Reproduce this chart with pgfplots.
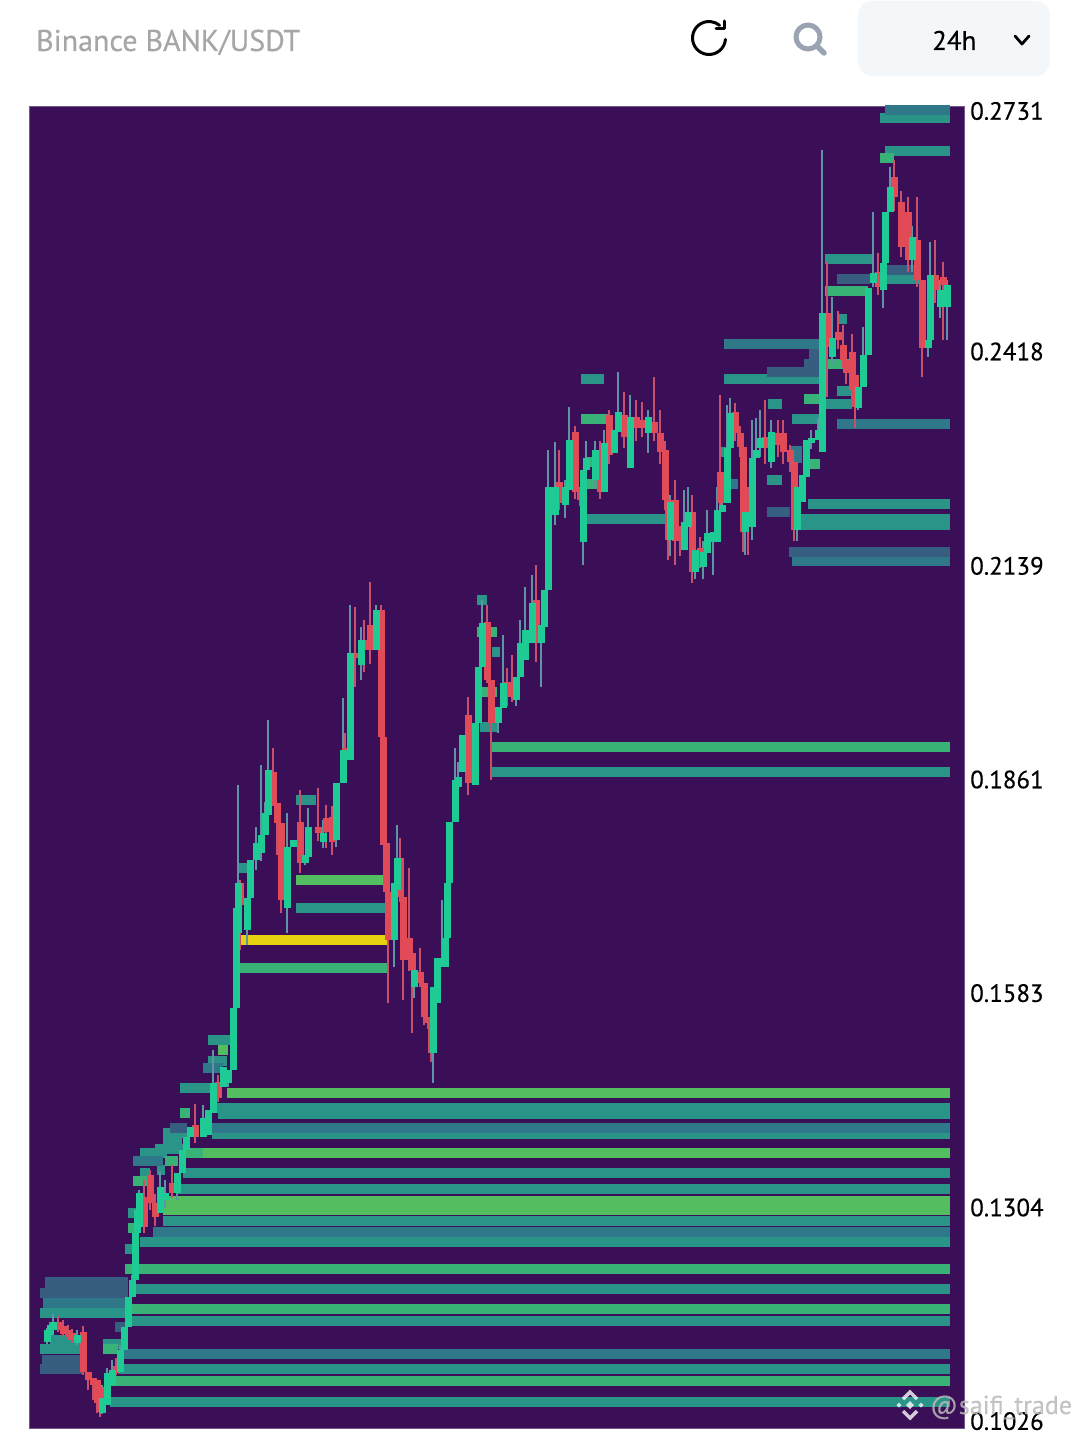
\documentclass[border=0pt]{standalone}
\usepackage{fontspec}
\setmainfont{PT Sans}[FakeBold=0.35]
\usepackage{pgfplots}
\usepackage{pgfplotstable}
\pgfplotsset{compat=1.18}

\definecolor{bgpurple}{HTML}{3B0F57}
\definecolor{hbright}{HTML}{52BE60}
\definecolor{hgreen}{HTML}{39B278}
\definecolor{hteal}{HTML}{2A9488}
\definecolor{hblue}{HTML}{2E7889}
\definecolor{hslate}{HTML}{375E80}
\definecolor{hyellow}{HTML}{E6D20E}
\definecolor{upbody}{HTML}{1ECB94}
\definecolor{downbody}{HTML}{E14B57}
\definecolor{upwick}{HTML}{5F93A6}
\definecolor{downwick}{HTML}{C9506A}
\definecolor{chipbg}{HTML}{F4F7FA}
\definecolor{icongray}{HTML}{9AA3B2}

% order book bands: start, end, price
\pgfplotstableread{
x0 x1 p
227 950 0.1452
203 950 0.1374
296 383 0.1729
218 228 0.1508
163 950 0.1311
163 950 0.1299
}\brightbars
\pgfplotstableread{
x0 x1 p
491 950 0.1902
237 388 0.1614
825 868 0.2495
880 894 0.2669
804 820 0.2355
808 820 0.2270
825 853 0.2400
581 610 0.2329
585 598 0.2273
585 598 0.2244
477 497 0.2052
477 497 0.1974
180 190 0.1426
165 178 0.1363
133 147 0.1337
128 140 0.1276
125 950 0.1223
128 950 0.1171
110 950 0.1077
103 118 0.1118
185 203 0.1374
}\greenbars
\pgfplotstableread{
x0 x1 p
880 950 0.2721
885 950 0.2678
825 873 0.2537
885 920 0.2511
837 847 0.2459
724 820 0.2381
837 852 0.2365
825 852 0.2348
768 782 0.2348
792 820 0.2329
767 782 0.2250
720 730 0.2286
808 950 0.2218
797 950 0.2199
797 950 0.2191
581 604 0.2381
585 665 0.2199
477 487 0.2093
480 497 0.1928
492 500 0.2026
491 950 0.1869
296 316 0.1833
296 386 0.1692
237 248 0.1745
208 232 0.1521
208 227 0.1493
180 217 0.1458
217 950 0.1432
218 950 0.1424
212 950 0.1398
163 187 0.1400
163 182 0.1389
155 183 0.1379
140 167 0.1374
157 165 0.1351
140 150 0.1348
183 950 0.1348
177 950 0.1327
163 950 0.1285
140 950 0.1258
128 140 0.1296
125 137 0.1249
135 950 0.1197
130 950 0.1155
40 127 0.1165
40 83 0.1118
50 83 0.1130
103 123 0.1125
118 950 0.1092
110 950 0.1050
}\tealbars
\pgfplotstableread{
x0 x1 p
885 950 0.2731
837 950 0.2322
724 820 0.2426
790 802 0.2287
790 802 0.2278
720 738 0.2244
792 950 0.2144
212 950 0.1406
133 163 0.1363
153 950 0.1271
43 128 0.1178
122 950 0.1112
203 223 0.1484
}\bluebars
\pgfplotstableread{
x0 x1 p
837 870 0.2511
885 917 0.2523
809 820 0.2413
804 820 0.2400
767 820 0.2390
767 790 0.2208
789 950 0.2156
170 187 0.1406
45 128 0.1206
45 128 0.1198
40 128 0.1191
42 83 0.1104
40 83 0.1092
115 125 0.1147
}\slatebars
\pgfplotstableread{
x0 x1 p
237 388 0.1651
}\yellowbars

% candles: time, low, high, body low, body high
\pgfplotstableread{
x lo hi bl bh
47 0.1125 0.1146 0.1128 0.1143
50 0.1134 0.1154 0.1137 0.1150
53 0.1141 0.1164 0.1143 0.1154
77 0.1124 0.1143 0.1126 0.1137
102 0.1034 0.1072 0.1035 0.1055
107 0.1046 0.1094 0.1046 0.1087
112 0.1072 0.1104 0.1072 0.1091
120 0.1089 0.1124 0.1089 0.1117
124 0.1117 0.1147 0.1117 0.1147
128 0.1147 0.1186 0.1147 0.1186
132 0.1186 0.1215 0.1186 0.1208
135 0.1208 0.1269 0.1208 0.1269
137 0.1269 0.1299 0.1269 0.1299
139 0.1277 0.1325 0.1277 0.1321
160 0.1296 0.1349 0.1296 0.1329
165 0.1302 0.1339 0.1312 0.1321
177 0.1312 0.1348 0.1321 0.1348
182 0.1348 0.1378 0.1348 0.1378
186 0.1378 0.1394 0.1378 0.1394
190 0.1394 0.1407 0.1394 0.1407
203 0.1394 0.1436 0.1394 0.1419
208 0.1397 0.1430 0.1397 0.1430
213 0.1426 0.1508 0.1426 0.1465
223 0.1460 0.1486 0.1460 0.1486
228 0.1460 0.1482 0.1465 0.1482
233 0.1482 0.1562 0.1482 0.1562
236 0.1562 0.1692 0.1562 0.1692
238 0.1650 0.1853 0.1660 0.1725
247 0.1644 0.1706 0.1664 0.1706
250 0.1706 0.1755 0.1706 0.1755
256 0.1742 0.1798 0.1755 0.1777
261 0.1754 0.1879 0.1764 0.1787
265 0.1787 0.1830 0.1787 0.1816
268 0.1813 0.1937 0.1813 0.1872
287 0.1660 0.1816 0.1692 0.1772
293 0.1772 0.1781 0.1772 0.1781
305 0.1748 0.1761 0.1751 0.1761
308 0.1759 0.1823 0.1759 0.1798
323 0.1770 0.1807 0.1778 0.1790
336 0.1772 0.1855 0.1781 0.1855
343 0.1855 0.1966 0.1855 0.1898
350 0.1885 0.2087 0.1885 0.2024
361 0.1989 0.2058 0.2009 0.2041
376 0.2028 0.2087 0.2028 0.2080
394 0.1616 0.1725 0.1651 0.1725
397 0.1716 0.1800 0.1716 0.1757
414 0.1575 0.1612 0.1590 0.1612
433 0.1465 0.1590 0.1504 0.1590
437 0.1569 0.1627 0.1569 0.1627
442 0.1616 0.1703 0.1616 0.1627
445 0.1616 0.1653 0.1616 0.1653
447 0.1653 0.1725 0.1653 0.1725
449 0.1725 0.1804 0.1725 0.1804
455 0.1804 0.1901 0.1804 0.1859
458 0.1845 0.1883 0.1850 0.1863
462 0.1869 0.1918 0.1869 0.1918
475 0.1852 0.1933 0.1852 0.1933
478 0.1933 0.2006 0.1933 0.2006
482 0.2006 0.2093 0.2006 0.2063
498 0.1920 0.1954 0.1933 0.1954
503 0.1953 0.2048 0.1953 0.1985
516 0.1955 0.1993 0.1963 0.1993
520 0.1993 0.2067 0.1993 0.2037
525 0.2015 0.2110 0.2015 0.2054
532 0.2037 0.2126 0.2037 0.2089
541 0.1980 0.2061 0.2037 0.2061
544 0.2058 0.2106 0.2058 0.2106
548 0.2106 0.2288 0.2106 0.2240
555 0.2191 0.2299 0.2204 0.2240
565 0.2200 0.2250 0.2217 0.2240
569 0.2236 0.2344 0.2236 0.2301
583 0.2139 0.2262 0.2169 0.2262
586 0.2262 0.2300 0.2262 0.2278
595 0.2240 0.2300 0.2250 0.2288
604 0.2234 0.2315 0.2234 0.2298
614 0.2285 0.2315 0.2285 0.2315
618 0.2312 0.2390 0.2312 0.2338
630 0.2265 0.2360 0.2265 0.2331
648 0.2285 0.2341 0.2311 0.2331
670 0.2150 0.2230 0.2171 0.2221
684 0.2158 0.2236 0.2158 0.2195
688 0.2188 0.2240 0.2188 0.2208
695 0.2120 0.2170 0.2130 0.2158
703 0.2120 0.2170 0.2136 0.2156
707 0.2154 0.2210 0.2154 0.2180
713 0.2126 0.2182 0.2169 0.2182
717 0.2169 0.2240 0.2169 0.2210
722 0.2208 0.2220 0.2208 0.2217
727 0.2220 0.2347 0.2220 0.2291
730 0.2291 0.2356 0.2291 0.2337
745 0.2152 0.2208 0.2182 0.2208
752 0.2171 0.2328 0.2188 0.2278
756 0.2278 0.2330 0.2278 0.2288
760 0.2280 0.2340 0.2291 0.2304
771 0.2265 0.2328 0.2273 0.2312
797 0.2170 0.2250 0.2184 0.2240
802 0.2221 0.2256 0.2221 0.2256
806 0.2253 0.2302 0.2253 0.2302
811 0.2290 0.2315 0.2297 0.2304
818 0.2301 0.2330 0.2301 0.2315
822 0.2286 0.2679 0.2286 0.2467
832 0.2400 0.2488 0.2410 0.2434
858 0.2340 0.2370 0.2343 0.2370
863 0.2370 0.2449 0.2370 0.2412
868 0.2412 0.2499 0.2412 0.2499
873 0.2500 0.2598 0.2506 0.2519
883 0.2473 0.2532 0.2497 0.2532
885 0.2532 0.2598 0.2532 0.2598
890 0.2598 0.2657 0.2598 0.2631
912 0.2520 0.2580 0.2536 0.2566
928 0.2410 0.2432 0.2421 0.2432
930 0.2432 0.2559 0.2432 0.2516
940 0.2460 0.2510 0.2475 0.2497
947 0.2432 0.2510 0.2475 0.2503
}\upcandles
\pgfplotstableread{
x lo hi bl bh
58 0.1141 0.1161 0.1143 0.1154
63 0.1136 0.1156 0.1138 0.1148
68 0.1130 0.1150 0.1134 0.1143
72 0.1126 0.1145 0.1130 0.1139
83 0.1085 0.1148 0.1089 0.1141
88 0.1065 0.1089 0.1078 0.1089
93 0.1052 0.1081 0.1072 0.1081
97 0.1035 0.1078 0.1048 0.1078
100 0.1030 0.1069 0.1036 0.1069
116 0.1085 0.1107 0.1087 0.1096
144 0.1269 0.1339 0.1277 0.1316
150 0.1300 0.1352 0.1308 0.1345
155 0.1278 0.1320 0.1290 0.1308
172 0.1315 0.1358 0.1321 0.1334
195 0.1387 0.1437 0.1394 0.1410
218 0.1440 0.1475 0.1445 0.1466
240 0.1638 0.1729 0.1696 0.1725
273 0.1825 0.1901 0.1829 0.1869
277 0.1761 0.1829 0.1803 0.1829
281 0.1686 0.1803 0.1703 0.1803
300 0.1738 0.1846 0.1751 0.1804
318 0.1780 0.1849 0.1790 0.1798
326 0.1770 0.1826 0.1792 0.1810
332 0.1761 0.1825 0.1778 0.1811
345 0.1860 0.1920 0.1885 0.1901
355 0.1980 0.2084 0.2018 0.2024
364 0.2000 0.2067 0.2028 0.2041
370 0.2010 0.2117 0.2028 0.2061
381 0.1915 0.2087 0.1915 0.2080
383 0.1774 0.1915 0.1774 0.1915
386 0.1713 0.1777 0.1713 0.1777
388 0.1569 0.1713 0.1651 0.1713
400 0.1700 0.1784 0.1707 0.1757
403 0.1573 0.1707 0.1625 0.1707
409 0.1610 0.1745 0.1625 0.1653
412 0.1530 0.1640 0.1612 0.1634
420 0.1590 0.1640 0.1595 0.1609
424 0.1540 0.1595 0.1551 0.1595
428 0.1535 0.1551 0.1543 0.1551
431 0.1492 0.1573 0.1504 0.1551
468 0.1840 0.1967 0.1855 0.1944
487 0.1985 0.2087 0.1989 0.2065
491 0.1859 0.1989 0.1933 0.1989
507 0.1955 0.2005 0.1967 0.1987
512 0.1960 0.2022 0.1967 0.1987
536 0.2013 0.2139 0.2037 0.2093
559 0.2210 0.2288 0.2220 0.2247
575 0.2225 0.2320 0.2234 0.2312
580 0.2215 0.2240 0.2224 0.2234
600 0.2225 0.2300 0.2234 0.2288
609 0.2270 0.2340 0.2282 0.2334
624 0.2291 0.2364 0.2305 0.2334
636 0.2300 0.2354 0.2317 0.2331
642 0.2305 0.2351 0.2317 0.2328
654 0.2300 0.2383 0.2311 0.2325
660 0.2270 0.2341 0.2286 0.2311
665 0.2210 0.2300 0.2224 0.2288
668 0.2145 0.2224 0.2171 0.2224
675 0.2139 0.2250 0.2170 0.2224
680 0.2150 0.2190 0.2170 0.2178
692 0.2115 0.2230 0.2130 0.2208
700 0.2135 0.2175 0.2149 0.2161
720 0.2200 0.2360 0.2220 0.2260
735 0.2300 0.2350 0.2311 0.2338
740 0.2280 0.2320 0.2292 0.2311
743 0.2156 0.2292 0.2182 0.2292
748 0.2152 0.2240 0.2210 0.2227
765 0.2270 0.2353 0.2291 0.2305
778 0.2280 0.2328 0.2295 0.2311
783 0.2270 0.2328 0.2286 0.2311
790 0.2260 0.2295 0.2273 0.2288
794 0.2170 0.2273 0.2184 0.2273
827 0.2357 0.2533 0.2423 0.2467
838 0.2420 0.2470 0.2432 0.2442
843 0.2395 0.2451 0.2406 0.2425
846 0.2375 0.2420 0.2389 0.2406
852 0.2355 0.2440 0.2367 0.2416
855 0.2317 0.2386 0.2344 0.2386
878 0.2490 0.2545 0.2501 0.2520
894 0.2600 0.2666 0.2618 0.2644
901 0.2540 0.2625 0.2553 0.2611
908 0.2520 0.2618 0.2536 0.2598
917 0.2500 0.2618 0.2510 0.2562
922 0.2384 0.2510 0.2421 0.2510
935 0.2480 0.2562 0.2497 0.2516
943 0.2432 0.2533 0.2503 0.2514
}\downcandles

\newcommand{\bands}[2]{%
  \addplot[forget plot, draw=none, mark=none,
    error bars/.cd, x dir=plus, x explicit, error mark=none,
    error bar style={draw=#1, solid, line width=10pt}]
    table[x=x0, y=p, x error expr=\thisrow{x1}-\thisrow{x0}] {#2};}
\newcommand{\wicks}[2]{%
  \addplot[forget plot, draw=none, mark=none,
    error bars/.cd, y dir=plus, y explicit, error mark=none,
    error bar style={draw=#1, solid, line width=1.5pt}]
    table[x=x, y=lo, y error expr=\thisrow{hi}-\thisrow{lo}] {#2};}
\newcommand{\bodies}[2]{%
  \addplot[forget plot, draw=none, mark=none,
    error bars/.cd, y dir=plus, y explicit, error mark=none,
    error bar style={draw=#1, solid, line width=7pt}]
    table[x=x, y=bl, y error expr=\thisrow{bh}-\thisrow{bl}] {#2};}

\begin{document}
\begin{tikzpicture}
  \useasboundingbox (0,0) rectangle (1080pt,-1431pt);
  \begin{axis}[
      at={(29pt,-106pt)}, anchor=north west,
      scale only axis, width=935pt, height=1322pt,
      xmin=29, xmax=964,
      ymin=0.10157, ymax=0.27362,
      axis background/.style={fill=bgpurple},
      axis line style={draw=bgpurple!70!white, line width=0.8pt},
      xtick=\empty,
      ytick={0.2731,0.2418,0.2139,0.1861,0.1583,0.1304,0.1026},
      yticklabels={0.2731,0.2418,0.2139,0.1861,0.1583,0.1304,0.1026},
      yticklabel pos=right,
      major tick length=0pt,
      yticklabel style={anchor=west, inner sep=0pt, xshift=6pt, yshift=-1pt,
        font=\fontsize{25}{28}\selectfont, text=black},
    ]
    \bands{hteal}{\tealbars}
    \bands{hblue}{\bluebars}
    \bands{hslate}{\slatebars}
    \bands{hgreen}{\greenbars}
    \bands{hbright}{\brightbars}
    \bands{hyellow}{\yellowbars}
    \wicks{downwick}{\downcandles}
    \wicks{upwick}{\upcandles}
    \bodies{downbody}{\downcandles}
    \bodies{upbody}{\upcandles}
  \end{axis}

  % header
  \node[anchor=base west, inner sep=0pt, text=black!35] at (36pt,-51pt)
    {\fontsize{30}{34}\selectfont Binance BANK/USDT};
  \begin{scope}[shift={(709pt,-38pt)}]
    \draw[line width=3pt, line cap=round] (-5:16.5pt) arc (-5:-310:16.5pt);
    \draw[line width=3pt, line cap=round, line join=round]
      (15pt,17pt) -- (15pt,9pt) -- (7pt,9pt);
  \end{scope}
  \draw[draw=icongray, line width=5pt] (808pt,-37pt) circle (12pt);
  \draw[draw=icongray, line width=5.5pt, line cap=round] (817pt,-46pt) -- (824pt,-53pt);
  \fill[fill=chipbg, rounded corners=14pt] (858pt,-1pt) rectangle (1050pt,-76pt);
  \node[anchor=base west, inner sep=0pt] at (932pt,-50pt)
    {\fontsize{27}{32}\selectfont 24h};
  \draw[line width=2.8pt, line cap=round, line join=round]
    (1015pt,-36pt) -- (1022pt,-44pt) -- (1029pt,-36pt);

  % watermark
  \begin{scope}[shift={(910pt,-1405pt)}, opacity=0.78]
    \fill[white] (0,-4pt) -- (4pt,0) -- (0,4pt) -- (-4pt,0) -- cycle;
    \fill[white] (-11pt,-2.5pt) -- (-8.5pt,0) -- (-11pt,2.5pt) -- (-13.5pt,0) -- cycle;
    \fill[white] (11pt,-2.5pt) -- (13.5pt,0) -- (11pt,2.5pt) -- (8.5pt,0) -- cycle;
    \draw[white, line width=3.5pt] (-7pt,6pt) -- (0,13pt) -- (7pt,6pt);
    \draw[white, line width=3.5pt] (-7pt,-6pt) -- (0,-13pt) -- (7pt,-6pt);
  \end{scope}
  \node[anchor=base west, inner sep=0pt, text=gray!55, opacity=0.85] at (930pt,-1414pt)
    {\fontsize{26}{30}\selectfont @\hspace{1pt}saifi\_trade};
\end{tikzpicture}
\end{document}
